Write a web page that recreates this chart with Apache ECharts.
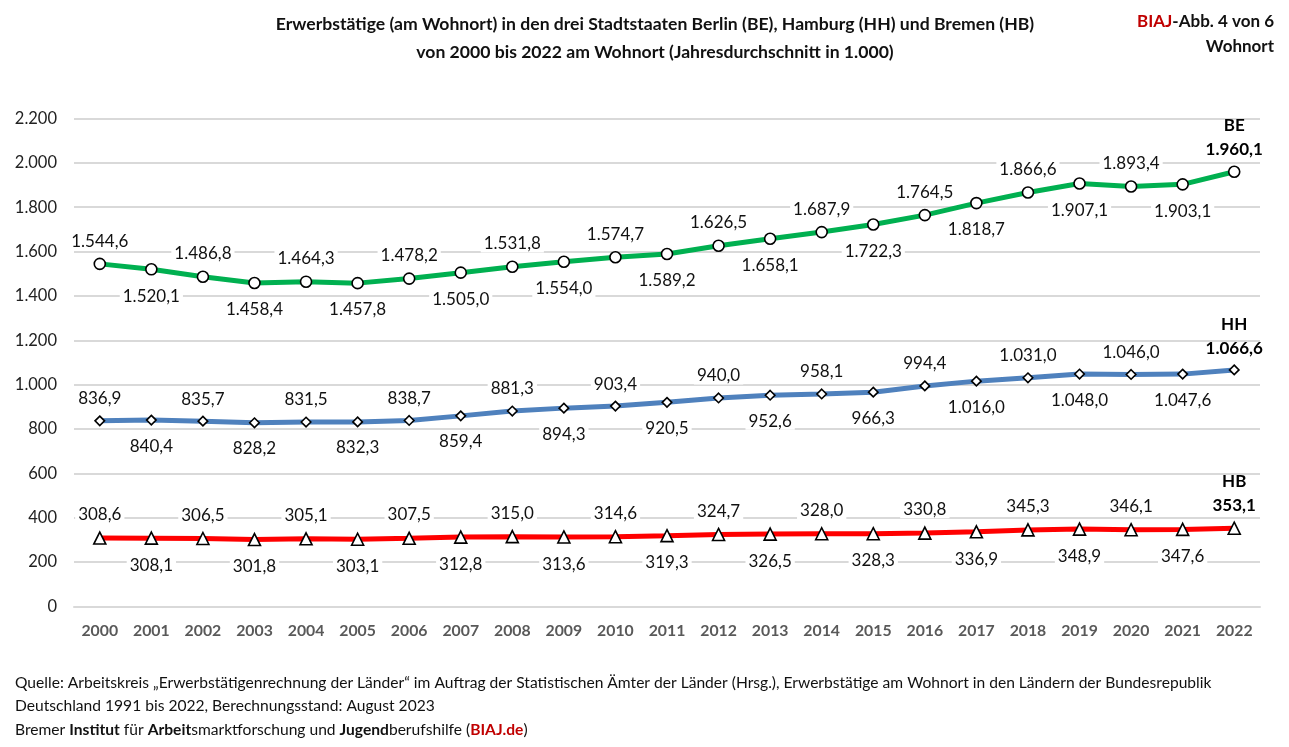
<!DOCTYPE html>
<html>
<head>
<meta charset="utf-8">
<title>Erwerbstätige Stadtstaaten</title>
<script src="https://cdn.jsdelivr.net/npm/echarts@6/dist/echarts.min.js"></script>
<style>
html, body { margin: 0; padding: 0; background: #fff; }
#main { width: 1289px; height: 747px; }
</style>
</head>
<body>
<div id="main"></div>
<script>
var years = ['2000', '2001', '2002', '2003', '2004', '2005', '2006', '2007', '2008', '2009', '2010', '2011',
    '2012', '2013', '2014', '2015', '2016', '2017', '2018', '2019', '2020', '2021', '2022'];
var beValues = [1544.6, 1520.1, 1486.8, 1458.4, 1464.3, 1457.8, 1478.2, 1505.0, 1531.8, 1554.0, 1574.7, 1589.2,
    1626.5, 1658.1, 1687.9, 1722.3, 1764.5, 1818.7, 1866.6, 1907.1, 1893.4, 1903.1, 1960.1];
var hhValues = [836.9, 840.4, 835.7, 828.2, 831.5, 832.3, 838.7, 859.4, 881.3, 894.3, 903.4, 920.5,
    940.0, 952.6, 958.1, 966.3, 994.4, 1016.0, 1031.0, 1048.0, 1046.0, 1047.6, 1066.6];
var hbValues = [308.6, 308.1, 306.5, 301.8, 305.1, 303.1, 307.5, 312.8, 315.0, 313.6, 314.6, 319.3,
    324.7, 326.5, 328.0, 328.3, 330.8, 336.9, 345.3, 348.9, 346.1, 347.6, 353.1];

var font = 'Lato';

// deutsche Zahlen: 1.544,6
function fmt(v, dec) {
    var parts = v.toFixed(dec).split('.');
    var s = parts[0].replace(/\B(?=(\d{3})+$)/g, '.');
    return parts[1] ? s + ',' + parts[1] : s;
}

function makeSeries(name, values, color, symbol, size) {
    var last = values.length - 1;
    return {
        name: name,
        type: 'line',
        data: values.map(function (v, i) {
            // gerade Jahre oben, ungerade unten, letzter Punkt fett mit Kuerzel
            var label = i === last ? {
                position: 'top',
                distance: 4,
                backgroundColor: 'transparent',
                formatter: '{n|' + name + '}\n{n|' + fmt(v, 1) + '}',
                rich: { n: { fontFamily: font, fontSize: 17, fontWeight: 'bold', color: '#000', lineHeight: 24 } }
            } : {
                position: i % 2 === 0 ? 'top' : 'bottom',
                distance: i % 2 === 0 ? 8 : 12
            };
            return { value: v, label: label };
        }),
        symbol: symbol,
        symbolSize: size,
        showAllSymbols: true,
        showSymbol: true,
        lineStyle: { color: color, width: 5 },
        itemStyle: { color: '#fff', borderColor: '#000', borderWidth: 1.6 },
        label: {
            show: true,
            fontFamily: font,
            fontSize: 17,
            color: '#111',
            backgroundColor: '#fff',
            padding: [0, 3],
            formatter: function (p) { return fmt(p.value, 1); }
        },
        z: 3,
        animation: false
    };
}

var myChart = echarts.init(document.getElementById('main'));

var option = {
    backgroundColor: '#fff',
    animation: false,
    title: [{
        text: 'Erwerbstätige (am Wohnort) in den drei Stadtstaaten Berlin (BE), Hamburg (HH) und Bremen (HB)\nvon 2000 bis 2022 am Wohnort (Jahresdurchschnitt in 1.000)',
        left: 655,
        top: 10,
        padding: 0,
        textAlign: 'center',
        textStyle: { fontFamily: font, fontSize: 17.6, fontWeight: 'bold', color: '#111', lineHeight: 28 }
    }, {
        text: '{r|BIAJ}{b|-Abb. 4 von 6}\n{b|Wohnort}',
        left: 1274,
        top: 9,
        padding: 0,
        textAlign: 'right',
        textStyle: {
            rich: {
                r: { fontFamily: font, fontSize: 17, fontWeight: 'bold', color: '#c00000', lineHeight: 25 },
                b: { fontFamily: font, fontSize: 17, fontWeight: 'bold', color: '#111', lineHeight: 25 }
            }
        }
    }, {
        text: 'Quelle: Arbeitskreis „Erwerbstätigenrechnung der Länder“ im Auftrag der Statistischen Ämter der Länder (Hrsg.), Erwerbstätige am Wohnort in den Ländern der Bundesrepublik\n' +
            'Deutschland 1991 bis 2022, Berechnungsstand: August 2023\n' +
            'Bremer {f|Institut} für {f|Arbeit}smarktforschung und {f|Jugend}berufshilfe ({red|BIAJ.de})',
        left: 15,
        top: 671,
        padding: 0,
        textStyle: {
            fontFamily: font,
            fontSize: 15.6,
            fontWeight: 'normal',
            color: '#111',
            lineHeight: 23.5,
            rich: {
                f: { fontFamily: font, fontSize: 15.6, fontWeight: 'bold', color: '#111', lineHeight: 23.5 },
                red: { fontFamily: font, fontSize: 15.6, fontWeight: 'bold', color: '#c00000', lineHeight: 23.5 }
            }
        }
    }],
    grid: { left: 74, right: 29, top: 118.5, height: 488, containLabel: false },
    xAxis: {
        type: 'category',
        data: years,
        axisLine: { lineStyle: { color: '#d9d9d9', width: 2 } },
        axisTick: { show: false },
        axisLabel: { fontFamily: font, fontSize: 15.8, fontWeight: 'bold', color: '#595959', margin: 16, interval: 0 }
    },
    yAxis: {
        type: 'value',
        min: 0,
        max: 2200,
        interval: 200,
        axisLine: { show: false },
        axisTick: { show: false },
        splitLine: { lineStyle: { color: '#d9d9d9', width: 2 } },
        axisLabel: {
            fontFamily: font,
            fontSize: 16.5,
            color: '#222',
            margin: 17,
            formatter: function (v) { return fmt(v, 0); }
        }
    },
    series: [
        makeSeries('BE', beValues, '#00b050', 'circle', 11),
        makeSeries('HH', hhValues, '#4f81bd', 'diamond', 9.5),
        makeSeries('HB', hbValues, '#ff0000', 'triangle', 12)
    ]
};

myChart.setOption(option);
</script>
</body>
</html>
